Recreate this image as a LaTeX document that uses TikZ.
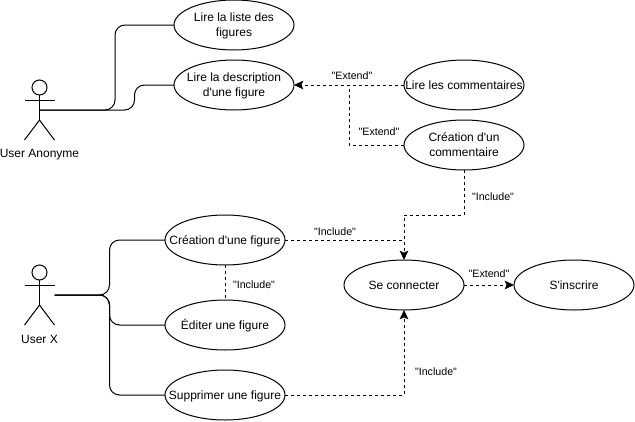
\documentclass[tikz,border=0pt]{standalone}
\usepackage{fontspec}
\usetikzlibrary{shapes.geometric,arrows.meta}
\newfontfamily\diagramfont{Liberation Sans}
% ellipse size stays fixed whatever the text width
\newcommand{\uctext}[1]{\raisebox{-0.75pt}[\height][\depth]{\makebox[0pt][c]{\begin{tabular}{@{}c@{}}#1\end{tabular}}}}
\tikzset{
  usecase/.style={ellipse, draw, line width=0.75pt, minimum width=90pt, minimum height=37.5pt, inner sep=0pt, outer sep=0pt, font=\diagramfont\fontsize{9}{11.25}\selectfont},
  actorhead/.style={circle, draw, line width=0.75pt, minimum size=11.25pt, inner sep=0pt, outer sep=0pt},
  actorname/.style={inner sep=0pt, font=\diagramfont\fontsize{9}{11.25}\selectfont},
  edgename/.style={inner sep=0pt, font=\diagramfont\fontsize{8}{9}\selectfont},
  assoc/.style={line width=0.75pt, rounded corners=7.5pt},
  dep/.style={line width=0.75pt, dashed, dash pattern=on 2.25pt off 2.25pt},
  deparrow/.style={dep, -{Stealth[length=7pt,width=6.5pt,inset=1.5pt]}}
}
\begin{document}
\begin{tikzpicture}[x=0.75pt, y=-0.75pt]
  \useasboundingbox (0, 0) rectangle (635, 421);
  % Nodes
  \node (uc-liste) [usecase] at (234, 25) {\uctext{Lire la liste des\\figures}};
  \node (uc-desc) [usecase] at (234, 85) {\uctext{Lire la description\\d'une figure}};
  \node (uc-comms) [usecase] at (464, 85) {\uctext{Lire les commentaires}};
  \node (uc-comm) [usecase] at (464, 145) {\uctext{Création d'un\\commentaire}};
  \node (uc-figure) [usecase] at (225, 240) {\uctext{Création d'une figure}};
  \node (uc-edit) [usecase] at (225, 325) {\uctext{Éditer une figure}};
  \node (uc-suppr) [usecase] at (225, 395) {\uctext{Supprimer une figure}};
  \node (uc-conn) [usecase] at (404, 285) {\uctext{Se connecter}};
  \node (uc-inscr) [usecase] at (574, 285) {\uctext{S'inscrire}};
  % Actors
  \node (a-head) [actorhead] at (39.5, 87.5) {};
  \coordinate (a-mid) at (39.5, 110);
  \coordinate (a-hip) at (39.5, 120);
  \draw[line width=0.75pt] (a-head) -- (a-hip);
  \draw[line width=0.75pt] (24.5, 100) -- (54.5, 100);
  \draw[line width=0.75pt] (24.5, 140) -- (a-hip) -- (54.5, 140);
  \node (a-name) [actorname] at (39.5, 155) {User Anonyme};
  \node (x-head) [actorhead] at (39.5, 272.5) {};
  \coordinate (x-side) at (54.5, 295);
  \coordinate (x-hip) at (39.5, 305);
  \draw[line width=0.75pt] (x-head) -- (x-hip);
  \draw[line width=0.75pt] (24.5, 285) -- (54.5, 285);
  \draw[line width=0.75pt] (24.5, 325) -- (x-hip) -- (54.5, 325);
  \node (x-name) [actorname] at (39.5, 339) {User X};
  % Bends
  \coordinate (j-extend) at (349, 85);
  \coordinate (b-comm) at (464, 215);
  \coordinate (b-top) at (404, 215);
  \coordinate (b-suppr) at (404, 395);
  % Lines
  \draw[assoc] (a-mid) -- (115, 110) -- (115, 25) -- (uc-liste.west);
  \draw[assoc] (a-mid) -- (134.5, 110) -- (134.5, 85) -- (uc-desc.west);
  \draw[assoc] (x-side) -- (109.5, 295) -- (109.5, 240) -- (uc-figure.west);
  \draw[assoc] (x-side) -- (109.5, 295) -- (109.5, 325) -- (uc-edit.west);
  \draw[assoc] (x-side) -- (109.5, 295) -- (109.5, 395) -- (uc-suppr.west);
  % Arrow
  \draw[deparrow] (uc-comms.west) -- (uc-desc.east);
  \draw[dep] (uc-comm.west) -| (j-extend);
  \draw[deparrow] (uc-comm.south) -- (b-comm) -- (b-top) -- (uc-conn.north);
  \draw[dep] (uc-figure.east) -- (404, 240);
  \draw[dep] (uc-figure.south) -- (uc-edit.north);
  \draw[deparrow] (uc-suppr.east) -- (b-suppr) -- (uc-conn.south);
  \draw[deparrow] (uc-conn.east) -- (uc-inscr.west);
  % Labels
  \node (l-ext-a) [edgename] at (352, 75.5) {"Extend"};
  \node (l-ext-b) [edgename] at (379, 131.5) {"Extend"};
  \node (l-inc-a) [edgename] at (493, 196.5) {"Include"};
  \node (l-inc-b) [edgename] at (335, 231.5) {"Include"};
  \node (l-inc-c) [edgename] at (254, 284.5) {"Include"};
  \node (l-ext-c) [edgename] at (489, 273.5) {"Extend"};
  \node (l-inc-d) [edgename] at (436, 371.5) {"Include"};
\end{tikzpicture}
\end{document}
